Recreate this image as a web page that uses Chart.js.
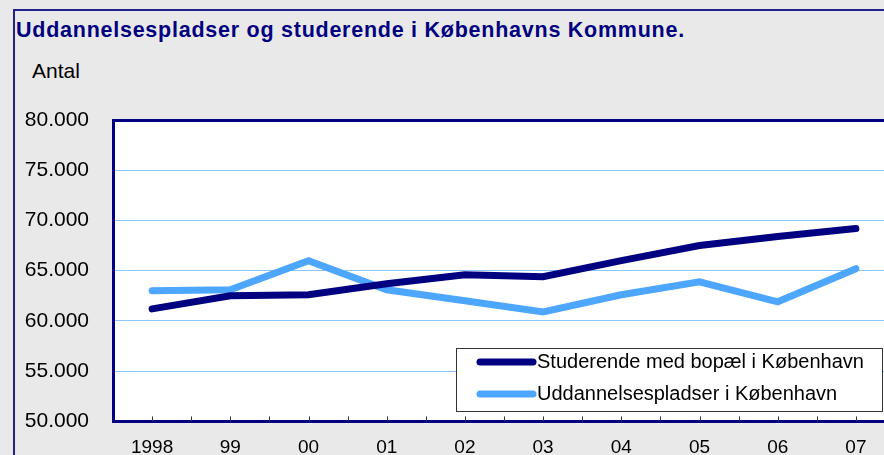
<!DOCTYPE html>
<html>
<head>
<meta charset="utf-8">
<script src="https://cdn.jsdelivr.net/npm/chart.js@4/dist/chart.umd.min.js"></script>
<style>
  html, body { margin: 0; padding: 0; width: 884px; height: 455px; overflow: hidden; background: #e9e9e9; }
  #frame { position: absolute; left: 13px; top: 9px; width: 1000px; height: 1000px; border-left: 2px solid #22228a; border-top: 2px solid #22228a; }
  #title { position: absolute; left: 16px; top: 20px; font: bold 21.5px "Liberation Sans", Arial, sans-serif; letter-spacing: 0.75px; line-height: 21px; color: #000080; white-space: nowrap; }
  #unit { position: absolute; left: 32px; top: 60px; font: 21px "Liberation Sans", Arial, sans-serif; line-height: 21px; color: #000; }
  #wrap { position: absolute; left: 0; top: 0; width: 900px; height: 458px; }
</style>
</head>
<body>
<div id="frame"></div>
<div id="title">Uddannelsespladser og studerende i Københavns Kommune.</div>
<div id="unit">Antal</div>
<div id="wrap"><canvas id="myChart" width="900" height="458"></canvas></div>
<script>
const years = ['1998', '99', '00', '01', '02', '03', '04', '05', '06', '07'];
const studerende = [61200, 62500, 62600, 63700, 64600, 64400, 66000, 67500, 68400, 69200];
const pladser = [63000, 63100, 66000, 63100, 62000, 60900, 62600, 63900, 61900, 65200];
const seriesNames = ['Studerende med bopæl i København', 'Uddannelsespladser i København'];

const navy = '#000080';
const lightBlue = '#4da6ff';
const gridBlue = '#8cc6ff';

function danish(v) {
  return String(v).replace(/\B(?=(\d{3})+(?!\d))/g, '.');
}

// white plot area
const plotBg = {
  id: 'plotBg',
  beforeDraw(chart) {
    const a = chart.chartArea;
    const ctx = chart.ctx;
    ctx.save();
    ctx.fillStyle = '#fff';
    ctx.fillRect(a.left, a.top, a.right - a.left, a.bottom - a.top);
    ctx.restore();
  }
};

// small inward tick marks on the x axis, at categories and between them
const innerTicks = {
  id: 'innerTicks',
  afterDatasetsDraw(chart) {
    const x = chart.scales.x;
    const a = chart.chartArea;
    const ctx = chart.ctx;
    ctx.save();
    ctx.strokeStyle = '#333';
    ctx.lineWidth = 1;
    for (let v = 0; v <= years.length - 0.5; v += 0.5) {
      const px = Math.round(x.getPixelForValue(v)) + 0.5;
      ctx.beginPath();
      ctx.moveTo(px, a.bottom);
      ctx.lineTo(px, a.bottom - 5);
      ctx.stroke();
    }
    ctx.restore();
  }
};

// boxed legend inside the plot area, bottom right
const boxLegend = {
  id: 'boxLegend',
  afterDraw(chart) {
    const ctx = chart.ctx;
    const left = 456, top = 348, right = 883, bottom = 412;
    ctx.save();
    ctx.fillStyle = '#fff';
    ctx.fillRect(left, top, right - left, bottom - top);
    ctx.strokeStyle = '#333';
    ctx.lineWidth = 1;
    ctx.strokeRect(left + 0.5, top + 0.5, right - left - 1, bottom - top - 1);
    ctx.font = '20px "Liberation Sans", Arial, sans-serif';
    ctx.textBaseline = 'middle';
    chart.data.datasets.forEach((ds, i) => {
      const y = top + 14 + i * 32;
      ctx.strokeStyle = ds.borderColor;
      ctx.lineWidth = 7;
      ctx.lineCap = 'round';
      ctx.beginPath();
      ctx.moveTo(480, y);
      ctx.lineTo(533, y);
      ctx.stroke();
      ctx.fillStyle = '#000';
      ctx.fillText(ds.label, 537, y);
    });
    ctx.restore();
  }
};

var ctx = document.getElementById('myChart').getContext('2d');
var myChart = new Chart(ctx, {
  type: 'line',
  data: {
    labels: years,
    datasets: [{
        data: studerende,
        label: seriesNames[0],
        borderColor: navy,
        borderWidth: 7,
        borderCapStyle: 'round',
        pointRadius: 0,
        tension: 0,
        fill: false,
      }, {
        data: pladser,
        label: seriesNames[1],
        borderColor: lightBlue,
        borderWidth: 7,
        borderCapStyle: 'round',
        pointRadius: 0,
        tension: 0,
        fill: false,
      }
    ]
  },
  options: {
    responsive: false,
    animation: false,
    layout: { padding: { top: 120, left: 0, right: 5, bottom: 0 } },
    plugins: {
      legend: { display: false },
      tooltip: { enabled: false }
    },
    scales: {
      x: {
        offset: true,
        grid: { display: false, drawTicks: false },
        border: { color: navy, width: 3 },
        ticks: {
          color: '#000',
          font: { family: '"Liberation Sans", Arial, sans-serif', size: 19 },
          padding: 15,
          autoSkip: false,
          maxRotation: 0
        },
        afterFit(scale) { scale.height = 35; }
      },
      y: {
        min: 50000,
        max: 80000,
        grid: {
          drawTicks: false,
          color: c => c.tick && c.tick.value === 80000 ? navy : gridBlue,
          lineWidth: c => c.tick && c.tick.value === 80000 ? 3 : 1
        },
        border: { color: navy, width: 3 },
        ticks: {
          stepSize: 5000,
          color: '#000',
          font: { family: '"Liberation Sans", Arial, sans-serif', size: 21 },
          padding: 24,
          callback: v => danish(v)
        },
        afterFit(scale) { scale.width = 113; }
      }
    }
  },
  plugins: [plotBg, innerTicks, boxLegend]
});
</script>
</body>
</html>
